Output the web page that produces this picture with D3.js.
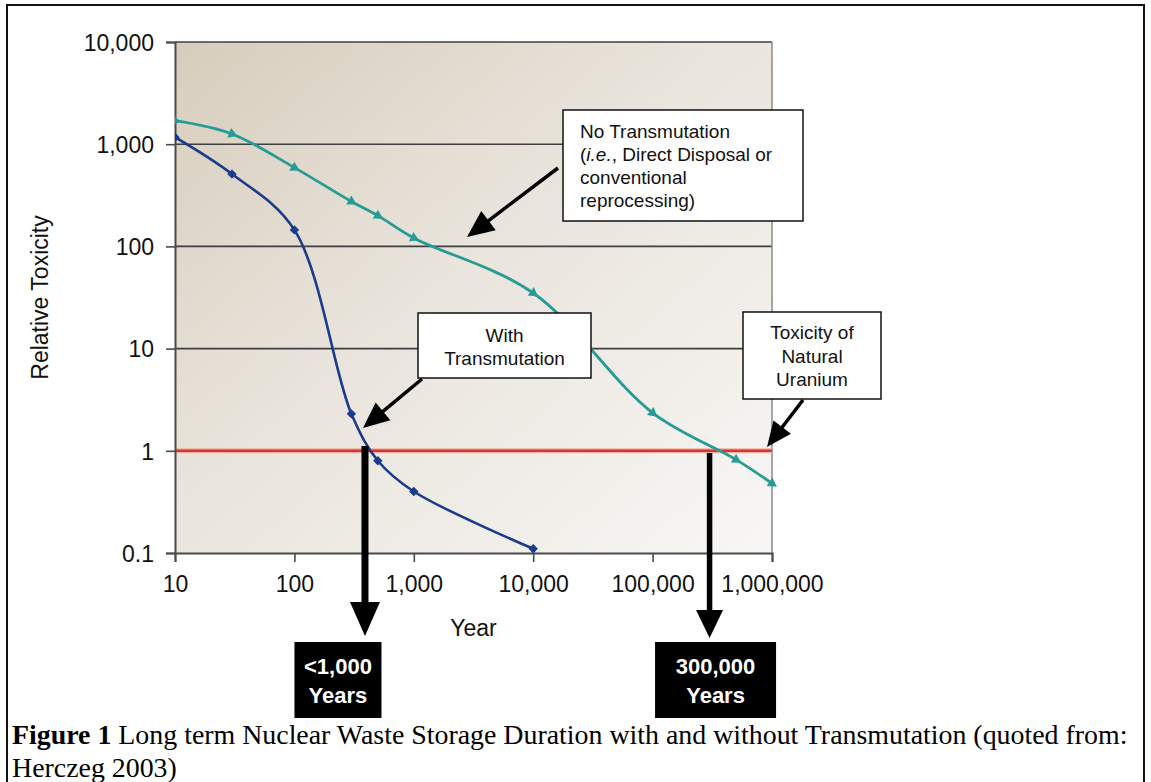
<!DOCTYPE html>
<html>
<head>
<meta charset="utf-8">
<script src="https://cdnjs.cloudflare.com/ajax/libs/d3/7.8.5/d3.min.js"></script>
<style>
  html, body { margin: 0; padding: 0; background: #fff; }
  svg { display: block; }
  .sans { font-family: "Liberation Sans", Arial, sans-serif; }
  .serif { font-family: "Liberation Serif", "Times New Roman", serif; }
</style>
</head>
<body>
<svg id="chart" width="1151" height="782"></svg>
<script>
// ---- data ----
var xTicks = [10, 100, 1000, 10000, 100000, 1000000];
var yTicks = [0.1, 1, 10, 100, 1000, 10000];

var noTransYears  = [10, 30, 100, 300, 500, 1000, 10000, 100000, 500000, 1000000];
var noTransTox    = [1700, 1260, 590, 275, 200, 121, 35, 2.35, 0.82, 0.48];

var withTransYears = [10, 30, 100, 300, 500, 1000, 10000];
var withTransTox   = [1170, 510, 145, 2.3, 0.8, 0.4, 0.11];

var uraniumLevel = 1;
var storageYears = [390, 300000];
var storageLabels = [["<1,000", "Years"], ["300,000", "Years"]];

// ---- layout ----
var W = 1151, H = 782;
var plot = {left: 175, right: 772, top: 42, bottom: 553};
var colTeal = "#279b95", colBlue = "#1b3c8c", colRed = "#d7362c";

var svg = d3.select("#chart");

var x = d3.scaleLog().domain([10, 1e6]).range([plot.left, plot.right]);
var y = d3.scaleLog().domain([0.1, 10000]).range([plot.bottom, plot.top]);
var fmt = d3.format(",");

// outer frame
svg.append("rect")
    .attr("x", 7).attr("y", 5).attr("width", 1137).attr("height", 820)
    .attr("fill", "none").attr("stroke", "#111").attr("stroke-width", 2);

// plot background gradient
var defs = svg.append("defs");
var grad = defs.append("linearGradient").attr("id", "bg")
    .attr("x1", "0").attr("y1", "0").attr("x2", "1").attr("y2", "1");
grad.append("stop").attr("offset", "0%").attr("stop-color", "#d7cdbc");
grad.append("stop").attr("offset", "45%").attr("stop-color", "#e9e4dc");
grad.append("stop").attr("offset", "100%").attr("stop-color", "#f8f7f5");

defs.append("clipPath").attr("id", "clipPlot").append("rect")
    .attr("x", plot.left).attr("y", plot.top - 10)
    .attr("width", plot.right - plot.left + 12).attr("height", plot.bottom - plot.top + 20);

svg.append("rect")
    .attr("x", plot.left).attr("y", plot.top)
    .attr("width", plot.right - plot.left).attr("height", plot.bottom - plot.top)
    .attr("fill", "url(#bg)");

// horizontal gridlines (0.1 is the axis, 1 is the red line)
svg.append("g").selectAll("line")
    .data(yTicks.filter(function (d) { return d > 1; }))
  .enter().append("line")
    .attr("x1", plot.left).attr("x2", plot.right)
    .attr("y1", function (d) { return y(d); }).attr("y2", function (d) { return y(d); })
    .attr("stroke", "#3f3f3f").attr("stroke-width", 1.6);

// right border
svg.append("line")
    .attr("x1", plot.right).attr("x2", plot.right)
    .attr("y1", plot.top).attr("y2", plot.bottom)
    .attr("stroke", "#8a8a8a").attr("stroke-width", 1.5);

// red reference line (natural uranium)
svg.append("line")
    .attr("x1", plot.left).attr("x2", plot.right)
    .attr("y1", y(uraniumLevel)).attr("y2", y(uraniumLevel))
    .attr("stroke", "#efb0a8").attr("stroke-width", 5);
svg.append("line")
    .attr("x1", plot.left).attr("x2", plot.right)
    .attr("y1", y(uraniumLevel)).attr("y2", y(uraniumLevel))
    .attr("stroke", colRed).attr("stroke-width", 2.5);

// axes
var yAxis = d3.axisLeft(y).tickValues(yTicks).tickFormat(fmt).tickSize(9).tickPadding(12);
var xAxis = d3.axisBottom(x).tickValues(xTicks).tickFormat(fmt).tickSize(9).tickPadding(14);

var gy = svg.append("g").attr("class", "sans")
    .attr("transform", "translate(" + plot.left + ",0)").call(yAxis);
var gx = svg.append("g").attr("class", "sans")
    .attr("transform", "translate(0," + plot.bottom + ")").call(xAxis);

[gx, gy].forEach(function (g) {
  g.select(".domain").attr("stroke", "#4a4a4a").attr("stroke-width", 2);
  g.selectAll(".tick line").attr("stroke", "#4a4a4a").attr("stroke-width", 1.6);
  g.selectAll("text").attr("fill", "#111").style("font-size", "23px")
      .style("font-family", "'Liberation Sans', Arial, sans-serif");
});
gy.selectAll("text").attr("dy", "0.36em");

// axis titles
svg.append("text").attr("class", "sans")
    .attr("x", (plot.left + plot.right) / 2).attr("y", 636)
    .attr("text-anchor", "middle").style("font-size", "23px").attr("fill", "#111")
    .text("Year");
svg.append("text").attr("class", "sans")
    .attr("transform", "translate(48," + (plot.top + plot.bottom) / 2 + ") rotate(-90)")
    .attr("text-anchor", "middle").style("font-size", "23px").attr("fill", "#111")
    .text("Relative Toxicity");

// ---- series ----
function pts(xs, ys) {
  return xs.map(function (d, i) { return {year: d, tox: ys[i]}; });
}
var seriesNo   = pts(noTransYears, noTransTox);
var seriesWith = pts(withTransYears, withTransTox);

var line = d3.line()
    .x(function (d) { return x(d.year); })
    .y(function (d) { return y(d.tox); })
    .curve(d3.curveCatmullRom.alpha(0.5));

var gSeries = svg.append("g").attr("clip-path", "url(#clipPlot)");

gSeries.append("path").datum(seriesNo)
    .attr("d", line).attr("fill", "none")
    .attr("stroke", colTeal).attr("stroke-width", 2.8);
gSeries.append("path").datum(seriesWith)
    .attr("d", line).attr("fill", "none")
    .attr("stroke", colBlue).attr("stroke-width", 2.6);

// triangle markers oriented along the curve
gSeries.selectAll(".tri").data(seriesNo)
  .enter().append("path").attr("class", "tri")
    .attr("d", d3.symbol().type(d3.symbolTriangle).size(46))
    .attr("fill", colTeal)
    .attr("transform", function (d, i) {
      var a = seriesNo[Math.max(0, i - 1)], b = seriesNo[Math.min(seriesNo.length - 1, i + 1)];
      var ang = Math.atan2(y(b.tox) - y(a.tox), x(b.year) - x(a.year)) * 180 / Math.PI;
      return "translate(" + x(d.year) + "," + y(d.tox) + ") rotate(" + (ang + 90) + ")";
    });

// diamond markers
gSeries.selectAll(".dia").data(seriesWith)
  .enter().append("path").attr("class", "dia")
    .attr("d", d3.symbol().type(d3.symbolSquare).size(44))
    .attr("fill", colBlue)
    .attr("transform", function (d) {
      return "translate(" + x(d.year) + "," + y(d.tox) + ") rotate(45)";
    });

// ---- annotations ----
function arrow(g, x1, y1, x2, y2, w, headLen, headW) {
  var dx = x2 - x1, dy = y2 - y1, len = Math.sqrt(dx * dx + dy * dy);
  var ux = dx / len, uy = dy / len, px = -uy, py = ux;
  var bx = x2 - ux * headLen, by = y2 - uy * headLen;
  g.append("line")
      .attr("x1", x1).attr("y1", y1).attr("x2", bx + ux * 2).attr("y2", by + uy * 2)
      .attr("stroke", "#000").attr("stroke-width", w);
  g.append("path")
      .attr("d", "M" + x2 + "," + y2 +
                 "L" + (bx + px * headW / 2) + "," + (by + py * headW / 2) +
                 "L" + (bx - px * headW / 2) + "," + (by - py * headW / 2) + "Z")
      .attr("fill", "#000");
}

var gAnn = svg.append("g").attr("class", "sans");

function box(bx, by, bw, bh) {
  gAnn.append("rect").attr("x", bx).attr("y", by).attr("width", bw).attr("height", bh)
      .attr("fill", "#fff").attr("stroke", "#111").attr("stroke-width", 1.5);
}

// No Transmutation
box(563, 110, 240, 111);
var t1 = gAnn.append("text").style("font-size", "19px").attr("fill", "#111");
t1.append("tspan").attr("x", 580).attr("y", 138).text("No Transmutation");
var l2 = t1.append("tspan").attr("x", 580).attr("y", 161);
l2.append("tspan").text("(");
l2.append("tspan").style("font-style", "italic").text("i.e.");
l2.append("tspan").text(", Direct Disposal or");
t1.append("tspan").attr("x", 580).attr("y", 184).text("conventional");
t1.append("tspan").attr("x", 580).attr("y", 207).text("reprocessing)");
arrow(gAnn, 558, 168, 467, 237, 3.5, 27, 24);

// With Transmutation
box(418, 313, 173, 65);
var t2 = gAnn.append("text").style("font-size", "19px").attr("fill", "#111").attr("text-anchor", "middle");
t2.append("tspan").attr("x", 504.5).attr("y", 342).text("With");
t2.append("tspan").attr("x", 504.5).attr("y", 365).text("Transmutation");
arrow(gAnn, 422, 379, 363, 428, 3.5, 26, 23);

// Toxicity of Natural Uranium
box(743, 312, 138, 87);
var t3 = gAnn.append("text").style("font-size", "19px").attr("fill", "#111").attr("text-anchor", "middle");
t3.append("tspan").attr("x", 812).attr("y", 339).text("Toxicity of");
t3.append("tspan").attr("x", 812).attr("y", 363).text("Natural");
t3.append("tspan").attr("x", 812).attr("y", 386).text("Uranium");
arrow(gAnn, 803, 400, 767, 447, 3.5, 25, 22);

// storage duration arrows + black boxes
var downTop = [446, 453], downTip = [636, 638], boxW = [87, 121];
var shaftW = [7, 5.5], headL = [34, 28], headW = [30, 27];
storageYears.forEach(function (yr, i) {
  var ax = x(yr);
  arrow(gAnn, ax, downTop[i], ax, downTip[i], shaftW[i], headL[i], headW[i]);
  var cx = i === 0 ? ax - 27 : ax + 6;
  gAnn.append("rect").attr("x", cx - boxW[i] / 2).attr("y", 642)
      .attr("width", boxW[i]).attr("height", 76).attr("fill", "#000");
  var tt = gAnn.append("text").attr("text-anchor", "middle").attr("fill", "#fff")
      .style("font-size", "22px").style("font-weight", "bold");
  tt.append("tspan").attr("x", cx).attr("y", 674).text(storageLabels[i][0]);
  tt.append("tspan").attr("x", cx).attr("y", 703).text(storageLabels[i][1]);
});

// ---- caption ----
var cap = svg.append("text").attr("class", "serif").attr("fill", "#000").style("font-size", "20px");
var c1 = cap.append("tspan").attr("x", 12).attr("y", 744);
c1.append("tspan").style("font-weight", "bold").text("Figure 1");
c1.append("tspan").text(" Long term Nuclear Waste Storage Duration with and without Transmutation (quoted from:");
cap.append("tspan").attr("x", 12).attr("y", 777).text("Herczeg 2003)");
var wNow = c1.node().getComputedTextLength();
cap.style("font-size", (20 * 1116 / wNow).toFixed(2) + "px");
</script>
</body>
</html>
